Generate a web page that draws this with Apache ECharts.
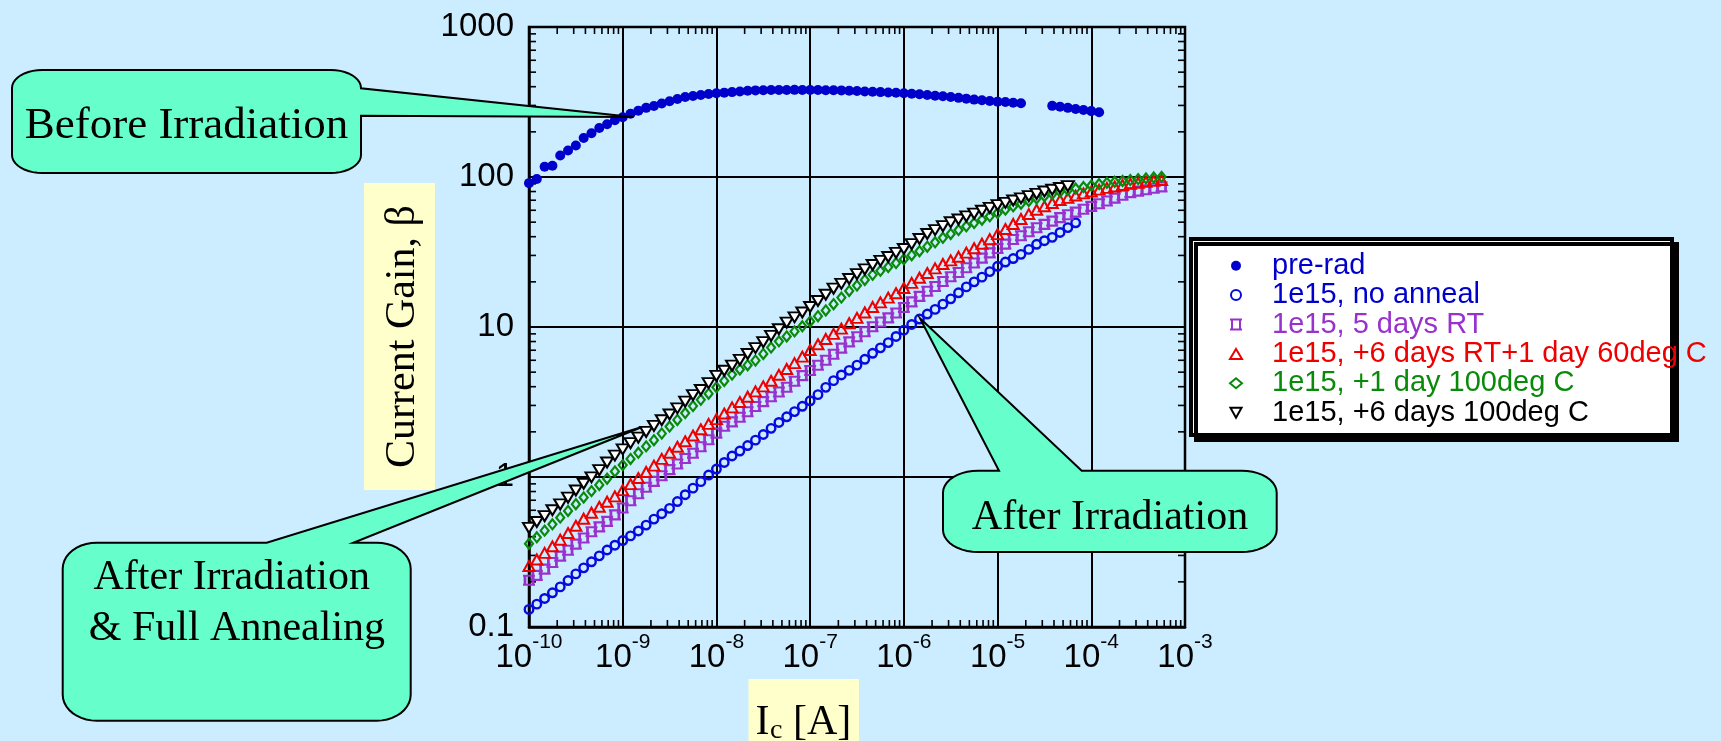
<!DOCTYPE html>
<html>
<head>
<meta charset="utf-8">
<script src="https://cdn.jsdelivr.net/npm/echarts@6/dist/echarts.min.js"></script>
<style>
  html, body { margin: 0; padding: 0; background: #CCECFF; }
  #chart { width: 1721px; height: 741px; }
</style>
</head>
<body>
<div id="chart"></div>
<script>
// Collector current sweep [A], shared by every measurement
const Ic = [
  1.000e-10, 1.212e-10, 1.468e-10, 1.778e-10, 2.154e-10, 2.610e-10, 3.162e-10, 3.831e-10, 4.642e-10, 5.623e-10, 6.813e-10, 8.254e-10,
  1.000e-9, 1.212e-9, 1.468e-9, 1.778e-9, 2.154e-9, 2.610e-9, 3.162e-9, 3.831e-9, 4.642e-9, 5.623e-9, 6.813e-9, 8.254e-9,
  1.000e-8, 1.212e-8, 1.468e-8, 1.778e-8, 2.154e-8, 2.610e-8, 3.162e-8, 3.831e-8, 4.642e-8, 5.623e-8, 6.813e-8, 8.254e-8,
  1.000e-7, 1.212e-7, 1.468e-7, 1.778e-7, 2.154e-7, 2.610e-7, 3.162e-7, 3.831e-7, 4.642e-7, 5.623e-7, 6.813e-7, 8.254e-7,
  1.000e-6, 1.212e-6, 1.468e-6, 1.778e-6, 2.154e-6, 2.610e-6, 3.162e-6, 3.831e-6, 4.642e-6, 5.623e-6, 6.813e-6, 8.254e-6,
  1.000e-5, 1.212e-5, 1.468e-5, 1.778e-5, 2.154e-5, 2.610e-5, 3.162e-5, 3.831e-5, 4.642e-5, 5.623e-5, 6.813e-5, 8.254e-5,
  1.000e-4, 1.212e-4, 1.468e-4, 1.778e-4, 2.154e-4, 2.610e-4, 3.162e-4, 3.831e-4, 4.642e-4, 5.623e-4
];

// Current gain beta for each condition (null = no reading)
const betaPreRad = [
  91, 97, 117, 119, 139, 150, 162, 182, 196, 212,
  225, 239, 250, 264, 277, 289, 297, 309, 320, 331,
  341, 347, 352, 358, 362, 365, 368, 372, 376, 378,
  379, 380, 380, 380, 381, 380, 380, 380, 379, 379,
  378, 376, 374, 372, 370, 368, 366, 364, 362, 359,
  356, 352, 348, 345, 341, 337, 333, 328, 325, 321,
  318, 316, 313, 310, null, null, null, 298, 294, 289,
  284, 280, 275, 270
];
const betaNoAnneal = [
  0.131, 0.142, 0.155, 0.169, 0.185, 0.204, 0.226, 0.248, 0.272, 0.298,
  0.326, 0.351, 0.377, 0.405, 0.437, 0.478, 0.524, 0.569, 0.618, 0.686,
  0.762, 0.843, 0.931, 1.03, 1.13, 1.25, 1.38, 1.49, 1.62, 1.76,
  1.92, 2.11, 2.31, 2.52, 2.73, 2.96, 3.22, 3.54, 3.96, 4.39,
  4.79, 5.14, 5.57, 6.09, 6.68, 7.26, 7.87, 8.65, 9.53, 10.4,
  11.3, 12.2, 13.1, 14.2, 15.4, 16.9, 18.5, 20.0, 21.5, 23.4,
  25.4, 27.1, 28.6, 30.5, 32.9, 35.6, 37.6, 39.6, 42.7, 46.0,
  49.5
];
const beta5DaysRT = [
  0.205, 0.221, 0.243, 0.269, 0.297, 0.325, 0.357, 0.392, 0.431, 0.465,
  0.506, 0.559, 0.621, 0.695, 0.774, 0.855, 0.935, 1.02, 1.12, 1.22,
  1.33, 1.44, 1.59, 1.77, 1.96, 2.18, 2.33, 2.50, 2.72, 2.95,
  3.18, 3.43, 3.69, 3.97, 4.35, 4.74, 5.13, 5.56, 6.01, 6.59,
  7.23, 7.96, 8.61, 9.29, 10.05, 10.8, 11.5, 12.4, 13.5, 14.7,
  16.0, 17.3, 18.6, 20.1, 21.6, 23.1, 24.8, 26.7, 28.8, 31.2,
  33.4, 35.7, 38.3, 40.6, 43.2, 45.9, 48.3, 50.8, 53.6, 56.0,
  58.3, 61.0, 63.7, 66.4, 69.2, 72.3, 75.5, 78.7, 80.5, 82.3,
  84.1, 85.9
];
const beta60degC = [
  0.255, 0.282, 0.312, 0.345, 0.382, 0.423, 0.473, 0.527, 0.578, 0.633,
  0.684, 0.743, 0.817, 0.897, 0.984, 1.08, 1.19, 1.32, 1.45, 1.59,
  1.73, 1.89, 2.08, 2.26, 2.43, 2.65, 2.91, 3.16, 3.43, 3.72,
  4.02, 4.38, 4.80, 5.25, 5.74, 6.35, 7.03, 7.67, 8.32, 9.00,
  9.75, 10.6, 11.5, 12.5, 13.6, 14.6, 15.7, 16.8, 18.2, 19.7,
  21.3, 22.9, 24.6, 26.3, 27.8, 29.4, 31.3, 33.5, 35.9, 38.5,
  41.6, 45.0, 48.6, 52.5, 56.6, 60.5, 63.8, 67.1, 70.2, 72.6,
  75.2, 77.8, 80.0, 82.4, 84.6, 86.4, 88.5, 90.2, 91.5, 92.9,
  94.2, 95.5
];
const beta1Day100 = [
  0.359, 0.396, 0.439, 0.484, 0.536, 0.594, 0.659, 0.731, 0.805, 0.885,
  0.975, 1.09, 1.20, 1.32, 1.45, 1.60, 1.76, 1.95, 2.17, 2.40,
  2.67, 2.97, 3.27, 3.59, 3.96, 4.37, 4.82, 5.21, 5.56, 5.98,
  6.61, 7.29, 8.02, 8.65, 9.35, 10.1, 10.9, 11.8, 12.9, 14.2,
  15.7, 17.4, 18.9, 20.6, 22.3, 23.7, 25.1, 26.7, 28.3, 30.1,
  32.0, 34.3, 36.7, 39.3, 41.7, 44.3, 46.9, 49.3, 51.9, 54.7,
  57.5, 60.6, 63.7, 66.4, 69.2, 72.0, 74.5, 77.1, 79.6, 81.7,
  83.8, 85.7, 87.7, 89.7, 91.4, 92.9, 94.2, 95.5, 96.8, 97.9,
  99.1, 100.2
];
const beta6Days100 = [
  0.458, 0.501, 0.548, 0.600, 0.657, 0.728, 0.813, 0.902, 0.995, 1.11,
  1.25, 1.39, 1.53, 1.68, 1.83, 2.00, 2.19, 2.39, 2.61, 2.87,
  3.18, 3.51, 3.80, 4.23, 4.72, 5.11, 5.52, 6.04, 6.61, 7.24,
  7.93, 8.73, 9.66, 10.7, 11.6, 12.5, 13.6, 14.9, 16.4, 18.0,
  19.4, 20.9, 22.5, 24.2, 25.9, 27.6, 29.3, 31.2, 33.1, 35.7,
  38.6, 41.7, 44.3, 47.0, 49.9, 52.1, 54.6, 57.0, 59.6, 62.2,
  64.9, 67.3, 69.7, 72.1, 74.6, 77.2, 80.0, 82.2, 84.5, 86.9
];

const seriesNames = [
  'pre-rad',
  '1e15, no anneal',
  '1e15, 5 days RT',
  '1e15, +6 days RT+1 day 60deg C',
  '1e15, +1 day 100deg C',
  '1e15, +6 days 100deg C'
];

// Tick labels
const xTickExponents = ['-10', '-9', '-8', '-7', '-6', '-5', '-4', '-3'];
const yTickLabels = ['0.1', '1', '10', '100', '1000'];

const C_BLUE = '#0000CC', C_BLUE2 = '#0808E0', C_PURPLE = '#9932CC',
      C_RED = '#EE0000', C_GREEN = '#0A8A0A', C_BLACK = '#000000';
const NONE = 'rgba(0,0,0,0)';

function pairs(beta) {
  const out = [];
  beta.forEach((b, i) => { if (b != null) out.push([Ic[i], b]); });
  return out;
}

// log-axis minor tick positions (2..9 within each decade)
const xMinor = [], yMinor = [];
for (let e = -10; e < -3; e++) for (let m = 2; m <= 9; m++) xMinor.push([m * Math.pow(10, e), 1]);
for (let e = -1; e < 3; e++) for (let m = 2; m <= 9; m++) yMinor.push([1e-6, m * Math.pow(10, e)]);
const TICK = 7;

function minorTickSeries(data, dir) {
  return {
    type: 'custom', coordinateSystem: 'cartesian2d', silent: true, z: 3,
    data: data,
    renderItem: function (params, api) {
      const cs = params.coordSys;
      const p = api.coord([api.value(0), api.value(1)]);
      const st = { stroke: '#000', lineWidth: 1.6 };
      if (dir === 'x') {
        return { type: 'group', children: [
          { type: 'line', shape: { x1: p[0], y1: cs.y + cs.height, x2: p[0], y2: cs.y + cs.height - TICK }, style: st },
          { type: 'line', shape: { x1: p[0], y1: cs.y, x2: p[0], y2: cs.y + TICK }, style: st }
        ] };
      }
      return { type: 'group', children: [
        { type: 'line', shape: { x1: cs.x, y1: p[1], x2: cs.x + TICK, y2: p[1] }, style: st },
        { type: 'line', shape: { x1: cs.x + cs.width, y1: p[1], x2: cs.x + cs.width - TICK, y2: p[1] }, style: st }
      ] };
    }
  };
}

// Rounded callout box with a wedge pointer
function callout(x, y, w, h, rx, ry, tail) {
  const pts = [];
  const arc = (cx, cy, a0, a1) => {
    for (let i = 0; i <= 10; i++) {
      const a = a0 + (a1 - a0) * i / 10;
      pts.push([cx + rx * Math.cos(a), cy + ry * Math.sin(a)]);
    }
  };
  arc(x + rx, y + ry, Math.PI, 1.5 * Math.PI);
  if (tail.side === 'top') pts.push([tail.a, y], tail.tip, [tail.b, y]);
  arc(x + w - rx, y + ry, 1.5 * Math.PI, 2 * Math.PI);
  if (tail.side === 'right') pts.push([x + w, tail.a], tail.tip, [x + w, tail.b]);
  arc(x + w - rx, y + h - ry, 0, 0.5 * Math.PI);
  arc(x + rx, y + h - ry, 0.5 * Math.PI, Math.PI);
  return {
    type: 'polygon', z: 100, silent: true,
    shape: { points: pts },
    style: { fill: '#66FFCC', stroke: '#000', lineWidth: 2 }
  };
}

const SERIF = '"Liberation Serif", "Times New Roman", serif';
const SANS = '"Liberation Sans", Arial, sans-serif';

function label(text, x, y, size, extra) {
  return Object.assign({
    type: 'text', x: x, y: y, z: 101, silent: true,
    style: { text: text, x: 0, y: 0, align: 'center', verticalAlign: 'middle',
             font: size + 'px ' + SERIF, fill: '#000' }
  }, extra || {});
}

const chart = echarts.init(document.getElementById('chart'));

const scatterBase = { type: 'scatter', z: 5, silent: true, emphasis: { disabled: true } };

chart.setOption({
  animation: false,
  backgroundColor: '#CCECFF',
  grid: { left: 529, top: 27, right: 536, bottom: 114, show: true,
          borderColor: '#000', borderWidth: 2.5, backgroundColor: 'transparent' },
  xAxis: {
    type: 'log', logBase: 10, min: 1e-10, max: 1e-3, splitNumber: 10,
    axisLine: { show: true, lineStyle: { color: '#000', width: 2.5 } },
    axisTick: { show: false },
    splitLine: { show: true, lineStyle: { color: '#000', width: 2 } },
    axisLabel: {
      margin: 5, color: '#000', showMinLabel: true, showMaxLabel: true,
      formatter: v => '{b|10}{e|' + xTickExponents[Math.round(Math.log10(v)) + 10] + '}',
      rich: {
        b: { fontFamily: SANS, fontSize: 33, lineHeight: 52, color: '#000' },
        e: { fontFamily: SANS, fontSize: 21, lineHeight: 21, verticalAlign: 'top', color: '#000' }
      }
    }
  },
  yAxis: {
    type: 'log', logBase: 10, min: 0.1, max: 1000, splitNumber: 10,
    axisLine: { show: true, lineStyle: { color: '#000', width: 2.5 } },
    axisTick: { show: false },
    splitLine: { show: true, lineStyle: { color: '#000', width: 2 } },
    axisLabel: {
      margin: 15, color: '#000', fontFamily: SANS, fontSize: 33,
      showMinLabel: true, showMaxLabel: true,
      formatter: v => yTickLabels[Math.round(Math.log10(v)) + 1]
    }
  },
  legend: {
    orient: 'vertical', left: 1229, top: 251, z: 20,
    itemWidth: 12, itemHeight: 10, itemGap: 0, selectedMode: false,
    padding: 0,
    textStyle: { fontFamily: SANS, fontSize: 29, lineHeight: 29.4,
                 rich: { s: { width: 25 } } },
    formatter: name => '{s| }' + name,
    data: [
      { name: seriesNames[0], textStyle: { color: C_BLUE } },
      { name: seriesNames[1], textStyle: { color: C_BLUE } },
      { name: seriesNames[2], textStyle: { color: C_PURPLE } },
      { name: seriesNames[3], textStyle: { color: C_RED } },
      { name: seriesNames[4], textStyle: { color: C_GREEN } },
      { name: seriesNames[5], textStyle: { color: C_BLACK } }
    ]
  },
  series: [
    minorTickSeries(xMinor, 'x'),
    minorTickSeries(yMinor, 'y'),
    Object.assign({}, scatterBase, {
      name: seriesNames[0], data: pairs(betaPreRad),
      symbol: 'circle', symbolSize: 10, itemStyle: { color: C_BLUE, opacity: 1 }
    }),
    Object.assign({}, scatterBase, {
      name: seriesNames[1], data: pairs(betaNoAnneal),
      symbol: 'circle', symbolSize: 8.5,
      itemStyle: { color: NONE, borderColor: C_BLUE2, borderWidth: 2.4, opacity: 1 }
    }),
    Object.assign({}, scatterBase, {
      name: seriesNames[2], data: pairs(beta5DaysRT),
      symbol: 'path://M0,0H12M2,0V10M10,0V10M0,10H12', symbolSize: [12, 9],
      itemStyle: { color: NONE, borderColor: C_PURPLE, borderWidth: 2.4, opacity: 1 }
    }),
    Object.assign({}, scatterBase, {
      name: seriesNames[3], data: pairs(beta60degC),
      symbol: 'triangle', symbolSize: [11, 10],
      itemStyle: { color: NONE, borderColor: C_RED, borderWidth: 2, opacity: 1 }
    }),
    Object.assign({}, scatterBase, {
      name: seriesNames[4], data: pairs(beta1Day100),
      symbol: 'diamond', symbolSize: [8, 10],
      itemStyle: { color: NONE, borderColor: C_GREEN, borderWidth: 2.2, opacity: 1 }
    }),
    Object.assign({}, scatterBase, {
      name: seriesNames[5], data: pairs(beta6Days100),
      symbol: 'path://M0,0H10L5,9Z', symbolSize: [12, 10],
      itemStyle: { color: '#FFFFFF', borderColor: C_BLACK, borderWidth: 2, opacity: 1 }
    })
  ],
  graphic: [
    // legend frame
    { type: 'rect', z: 15, silent: true,
      shape: { x: 1191, y: 239, width: 481, height: 196 },
      style: { fill: '#FFFFFF', stroke: '#000', lineWidth: 4,
               shadowColor: '#000', shadowOffsetX: 5, shadowOffsetY: 5, shadowBlur: 0 } },
    // axis titles
    { type: 'rect', z: 100, silent: true, shape: { x: 364, y: 183, width: 71, height: 307 },
      style: { fill: '#FFFFCC' } },
    label('Current Gain, \u03B2', 403, 336.5, 42, { rotation: Math.PI / 2 }),
    { type: 'rect', z: 100, silent: true, shape: { x: 748.5, y: 679, width: 110.5, height: 62 },
      style: { fill: '#FFFFCC' } },
    { type: 'text', z: 101, silent: true, x: 755.6, y: 722.5,
      style: { text: 'I', align: 'left', verticalAlign: 'middle', font: '42px ' + SERIF, fill: '#000' } },
    { type: 'text', z: 101, silent: true, x: 770, y: 730.5,
      style: { text: 'c', align: 'left', verticalAlign: 'middle', font: '28px ' + SERIF, fill: '#000' } },
    { type: 'text', z: 101, silent: true, x: 793, y: 722.5,
      style: { text: '[A]', align: 'left', verticalAlign: 'middle', font: '42px ' + SERIF, fill: '#000' } },
    // callouts
    callout(12, 70, 349, 103, 30, 18, { side: 'right', a: 88.3, b: 115.7, tip: [633, 117] }),
    label('Before Irradiation', 186.5, 126, 45),
    callout(62.7, 542.7, 348, 178, 34, 26, { side: 'top', a: 266.7, b: 353.3, tip: [642, 427] }),
    label('After Irradiation', 231.7, 577.5, 42),
    label('& Full Annealing', 236.9, 628.5, 42),
    callout(943, 470.7, 333.7, 81.3, 35, 22, { side: 'top', a: 999, b: 1081.7, tip: [920, 318.3] }),
    label('After Irradiation', 1110, 517.5, 42)
  ]
});
</script>
</body>
</html>
